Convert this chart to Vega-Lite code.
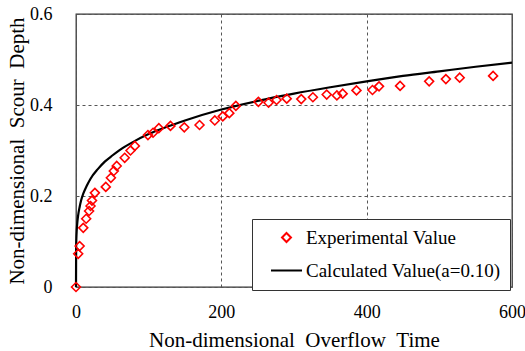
{
  "$schema": "https://vega.github.io/schema/vega-lite/v6.json",
  "width": 436,
  "height": 273,
  "autosize": "none",
  "padding": {"left": 76, "top": 14, "right": 13, "bottom": 64},
  "background": "white",
  "config": {
    "view": {"stroke": "#333", "strokeWidth": 1.3},
    "font": "Liberation Serif"
  },
  "datasets": {
    "exp": [
      {"t": 0, "depth": 0, "series": "Experimental Value"},
      {"t": 3, "depth": 0.073, "series": "Experimental Value"},
      {"t": 5, "depth": 0.09, "series": "Experimental Value"},
      {"t": 10, "depth": 0.13, "series": "Experimental Value"},
      {"t": 14, "depth": 0.15, "series": "Experimental Value"},
      {"t": 18, "depth": 0.167, "series": "Experimental Value"},
      {"t": 20, "depth": 0.178, "series": "Experimental Value"},
      {"t": 22, "depth": 0.19, "series": "Experimental Value"},
      {"t": 26, "depth": 0.207, "series": "Experimental Value"},
      {"t": 41, "depth": 0.22, "series": "Experimental Value"},
      {"t": 48, "depth": 0.24, "series": "Experimental Value"},
      {"t": 52, "depth": 0.255, "series": "Experimental Value"},
      {"t": 56, "depth": 0.266, "series": "Experimental Value"},
      {"t": 67, "depth": 0.284, "series": "Experimental Value"},
      {"t": 75, "depth": 0.3, "series": "Experimental Value"},
      {"t": 81, "depth": 0.31, "series": "Experimental Value"},
      {"t": 99, "depth": 0.334, "series": "Experimental Value"},
      {"t": 106, "depth": 0.339, "series": "Experimental Value"},
      {"t": 114, "depth": 0.349, "series": "Experimental Value"},
      {"t": 130, "depth": 0.354, "series": "Experimental Value"},
      {"t": 149, "depth": 0.351, "series": "Experimental Value"},
      {"t": 170, "depth": 0.356, "series": "Experimental Value"},
      {"t": 191, "depth": 0.366, "series": "Experimental Value"},
      {"t": 202, "depth": 0.375, "series": "Experimental Value"},
      {"t": 211, "depth": 0.382, "series": "Experimental Value"},
      {"t": 220, "depth": 0.398, "series": "Experimental Value"},
      {"t": 251, "depth": 0.407, "series": "Experimental Value"},
      {"t": 265, "depth": 0.405, "series": "Experimental Value"},
      {"t": 276, "depth": 0.411, "series": "Experimental Value"},
      {"t": 290, "depth": 0.414, "series": "Experimental Value"},
      {"t": 310, "depth": 0.413, "series": "Experimental Value"},
      {"t": 326, "depth": 0.417, "series": "Experimental Value"},
      {"t": 345, "depth": 0.423, "series": "Experimental Value"},
      {"t": 359, "depth": 0.421, "series": "Experimental Value"},
      {"t": 367, "depth": 0.425, "series": "Experimental Value"},
      {"t": 386, "depth": 0.432, "series": "Experimental Value"},
      {"t": 408, "depth": 0.433, "series": "Experimental Value"},
      {"t": 417, "depth": 0.441, "series": "Experimental Value"},
      {"t": 446, "depth": 0.442, "series": "Experimental Value"},
      {"t": 486, "depth": 0.452, "series": "Experimental Value"},
      {"t": 509, "depth": 0.457, "series": "Experimental Value"},
      {"t": 528, "depth": 0.46, "series": "Experimental Value"},
      {"t": 574, "depth": 0.464, "series": "Experimental Value"}
    ],
    "calc": [
      {"t": 0, "depth": 0, "series": "Calculated Value(a=0.10)"},
      {"t": 0.2, "depth": 0.088, "series": "Calculated Value(a=0.10)"},
      {"t": 0.5, "depth": 0.107, "series": "Calculated Value(a=0.10)"},
      {"t": 1, "depth": 0.125, "series": "Calculated Value(a=0.10)"},
      {"t": 2, "depth": 0.145, "series": "Calculated Value(a=0.10)"},
      {"t": 3, "depth": 0.158, "series": "Calculated Value(a=0.10)"},
      {"t": 5, "depth": 0.176, "series": "Calculated Value(a=0.10)"},
      {"t": 7, "depth": 0.19, "series": "Calculated Value(a=0.10)"},
      {"t": 10, "depth": 0.205, "series": "Calculated Value(a=0.10)"},
      {"t": 15, "depth": 0.223, "series": "Calculated Value(a=0.10)"},
      {"t": 20, "depth": 0.238, "series": "Calculated Value(a=0.10)"},
      {"t": 30, "depth": 0.259, "series": "Calculated Value(a=0.10)"},
      {"t": 40, "depth": 0.276, "series": "Calculated Value(a=0.10)"},
      {"t": 50, "depth": 0.289, "series": "Calculated Value(a=0.10)"},
      {"t": 60, "depth": 0.301, "series": "Calculated Value(a=0.10)"},
      {"t": 80, "depth": 0.32, "series": "Calculated Value(a=0.10)"},
      {"t": 100, "depth": 0.336, "series": "Calculated Value(a=0.10)"},
      {"t": 125, "depth": 0.352, "series": "Calculated Value(a=0.10)"},
      {"t": 150, "depth": 0.366, "series": "Calculated Value(a=0.10)"},
      {"t": 200, "depth": 0.39, "series": "Calculated Value(a=0.10)"},
      {"t": 250, "depth": 0.409, "series": "Calculated Value(a=0.10)"},
      {"t": 300, "depth": 0.425, "series": "Calculated Value(a=0.10)"},
      {"t": 350, "depth": 0.439, "series": "Calculated Value(a=0.10)"},
      {"t": 400, "depth": 0.452, "series": "Calculated Value(a=0.10)"},
      {"t": 450, "depth": 0.464, "series": "Calculated Value(a=0.10)"},
      {"t": 500, "depth": 0.474, "series": "Calculated Value(a=0.10)"},
      {"t": 550, "depth": 0.484, "series": "Calculated Value(a=0.10)"},
      {"t": 600, "depth": 0.493, "series": "Calculated Value(a=0.10)"}
    ]
  },
  "encoding": {
    "x": {
      "field": "t", "type": "quantitative",
      "scale": {"domain": [0, 600], "nice": false, "zero": false},
      "axis": {
        "values": [0, 200, 400, 600],
        "title": "Non-dimensional\u2002Overflow\u2002Time",
        "titleFont": "Liberation Serif", "titleFontSize": 21, "titleFontWeight": "normal", "titleColor": "#000",
        "titlePadding": 8,
        "labelFont": "Liberation Serif", "labelFontSize": 18, "labelColor": "#000", "labelPadding": 16,
        "labelFlush": false,
        "ticks": false, "domain": false,
        "grid": true, "gridDash": [3, 3], "gridColor": "#555", "gridWidth": 1
      }
    },
    "y": {
      "field": "depth", "type": "quantitative",
      "scale": {"domain": [0, 0.6], "nice": false},
      "axis": {
        "values": [0, 0.2, 0.4, 0.6],
        "format": "~g",
        "title": "Non-dimensional\u2002Scour\u2002Depth",
        "titleFont": "Liberation Serif", "titleFontSize": 21, "titleFontWeight": "normal", "titleColor": "#000",
        "titlePadding": 2,
        "labelFont": "Liberation Serif", "labelFontSize": 18, "labelColor": "#000", "labelPadding": 24,
        "labelFlush": false,
        "ticks": false, "domain": false,
        "grid": true, "gridDash": [3, 3], "gridColor": "#555", "gridWidth": 1
      }
    }
  },
  "layer": [
    {
      "data": {"name": "calc"},
      "mark": {"type": "line", "strokeWidth": 2.2, "interpolate": "monotone"},
      "encoding": {
        "color": {
          "field": "series", "type": "nominal",
          "scale": {"domain": ["Experimental Value", "Calculated Value(a=0.10)"], "range": ["#FF0000", "#000000"]},
          "legend": {
            "title": null,
            "orient": "none",
            "legendX": 176,
            "legendY": 205,
            "strokeColor": "#333",
            "fillColor": "white",
            "padding": 9,
            "rowPadding": 6,
            "labelFont": "Liberation Serif",
            "labelFontSize": 19,
            "labelColor": "#000",
            "labelOffset": 3,
            "symbolOffset": 9,
            "symbolStrokeWidth": 2,
            "labelLimit": 300
          }
        }
      }
    },
    {
      "data": {"name": "exp"},
      "mark": {"type": "point", "filled": false, "strokeWidth": 1.6, "opacity": 1},
      "encoding": {
        "color": {
          "field": "series", "type": "nominal",
          "scale": {"domain": ["Experimental Value", "Calculated Value(a=0.10)"], "range": ["#FF0000", "#000000"]},
          "legend": {
            "title": null,
            "orient": "none",
            "legendX": 176,
            "legendY": 205,
            "strokeColor": "#333",
            "fillColor": "white",
            "padding": 9,
            "rowPadding": 6,
            "labelFont": "Liberation Serif",
            "labelFontSize": 19,
            "labelColor": "#000",
            "labelOffset": 3,
            "symbolOffset": 9,
            "symbolStrokeWidth": 2,
            "labelLimit": 300
          }
        },
        "shape": {
          "field": "series", "type": "nominal",
          "scale": {"domain": ["Experimental Value", "Calculated Value(a=0.10)"], "range": ["diamond", "stroke"]}
        },
        "size": {
          "field": "series", "type": "nominal",
          "scale": {"domain": ["Experimental Value", "Calculated Value(a=0.10)"], "range": [80, 960]}
        }
      }
    }
  ]
}
